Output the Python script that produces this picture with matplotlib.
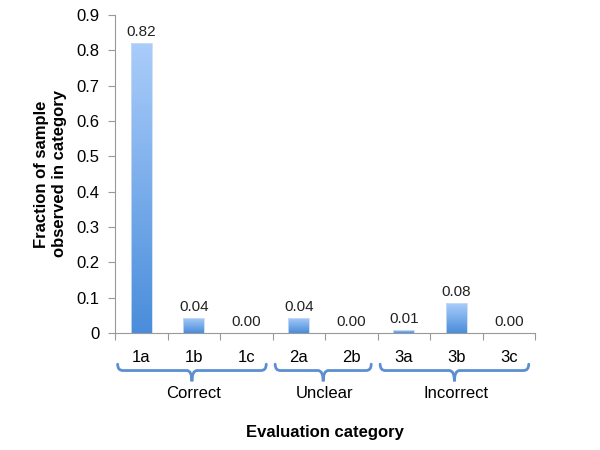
import matplotlib
matplotlib.use("Agg")
import matplotlib.pyplot as plt
import numpy as np
from matplotlib.path import Path
from matplotlib.patches import PathPatch
from matplotlib.colors import LinearSegmentedColormap

plt.rcParams['font.family'] = ['Liberation Sans', 'DejaVu Sans']

categories = ['1a', '1b', '1c', '2a', '2b', '3a', '3b', '3c']
values = [0.82, 0.043, 0.0, 0.043, 0.0, 0.008, 0.084, 0.0]
value_labels = ['0.82', '0.04', '0.00', '0.04', '0.00', '0.01', '0.08', '0.00']
groups = ['Correct', 'Unclear', 'Incorrect']
group_spans = [(0, 2), (3, 4), (5, 7)]
yticks = [0, 0.1, 0.2, 0.3, 0.4, 0.5, 0.6, 0.7, 0.8, 0.9]
ytick_labels = ['0', '0.1', '0.2', '0.3', '0.4', '0.5', '0.6', '0.7', '0.8', '0.9']

fig = plt.figure(figsize=(6, 4.5), dpi=100)
ax = fig.add_axes([0.1917, 0.26, 0.70, 0.7067])

x = np.arange(len(categories))
cmap = LinearSegmentedColormap.from_list('bg', ['#4a8ddb', '#aacdfa'])
bars = ax.bar(x, values, width=0.4, color='none', edgecolor='none')
grad = np.linspace(0, 1, 256).reshape(-1, 1)
for b in bars:
    h = b.get_height()
    if h <= 0:
        continue
    x0 = b.get_x()
    im = ax.imshow(grad, aspect='auto', cmap=cmap, origin='lower',
                   extent=[x0, x0 + b.get_width(), 0, h], zorder=2)
    im.set_clip_path(b)
    ax.add_patch(plt.Rectangle((x0, 0), b.get_width(), h, fill=False,
                               edgecolor='#c8dcf5', lw=0.6, zorder=3))

for xi, v, lab in zip(x, values, value_labels):
    ax.text(xi, v + 0.012, lab, ha='center', va='bottom', fontsize=11, color='#222222')

ax.set_xlim(-0.5, len(categories) - 0.5)
ax.set_ylim(0, 0.9)
ax.set_yticks(yticks)
ax.set_yticklabels(ytick_labels, fontsize=12)
ax.set_xticks(np.arange(-0.5, len(categories), 1.0))
ax.set_xticklabels([])
ax.set_xticks(x, minor=True)
ax.set_xticklabels(categories, minor=True, fontsize=12)
ax.tick_params(axis='x', which='minor', length=0, pad=12)
ax.tick_params(axis='x', which='major', length=5, color='#999999', direction='out')
ax.tick_params(axis='y', length=5, color='#999999', direction='out', pad=6)
for s in ['top', 'right']:
    ax.spines[s].set_visible(False)
for s in ['left', 'bottom']:
    ax.spines[s].set_color('#999999')

ax.set_ylabel('Fraction of sample\nobserved in category', fontsize=12,
              fontweight='bold', labelpad=7)

# braces
trans = ax.get_xaxis_transform()
bc = '#5b8fd2'
def brace(x0, x1, ytop, ymid, ybot):
    xm = (x0 + x1) / 2
    r = 0.1
    verts = [(x0, ytop), (x0, ymid), (x0 + r, ymid),
             (xm - r, ymid), (xm, ymid), (xm, ybot),
             (xm, ymid), (xm + r, ymid),
             (x1 - r, ymid), (x1, ymid), (x1, ytop)]
    codes = [Path.MOVETO, Path.CURVE3, Path.CURVE3,
             Path.LINETO, Path.CURVE3, Path.CURVE3,
             Path.CURVE3, Path.CURVE3,
             Path.LINETO, Path.CURVE3, Path.CURVE3]
    p = PathPatch(Path(verts, codes), transform=trans, fill=False,
                  edgecolor=bc, lw=2, clip_on=False, capstyle='round')
    ax.add_patch(p)

for (a, b), g in zip(group_spans, groups):
    brace(a - 0.45, b + 0.38, -0.098, -0.118, -0.152)
    ax.text((a + b) / 2, -0.168, g, transform=trans, ha='center', va='top', fontsize=12)

fig.text(0.5417, 0.04, 'Evaluation category', ha='center', va='center',
         fontsize=12, fontweight='bold')

fig.savefig('out.png', dpi=100)
